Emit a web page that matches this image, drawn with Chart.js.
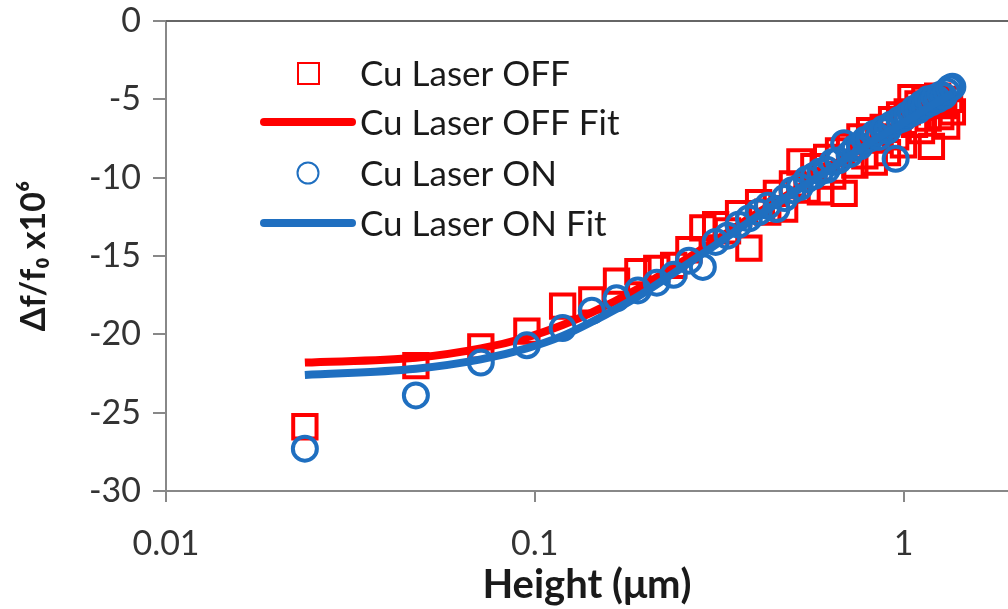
<!DOCTYPE html>
<html><head><meta charset="utf-8">
<script src="https://cdn.jsdelivr.net/npm/chart.js@4"></script>
<style>html,body{margin:0;padding:0;background:#fff}#wrap{width:1008px;height:609px}</style>
</head><body><div id="wrap"><canvas id="c" width="1008" height="609"></canvas></div>
<script>
// ---- data ----
const heights = [0.0238,0.0476,0.0714,0.0952,0.119,0.1428,0.1666,0.1904,0.2142,0.238,
  0.2618,0.2856,0.3094,0.3332,0.357,0.3808,0.4046,0.4284,0.4522,0.476,
  0.4998,0.5236,0.5474,0.5712,0.595,0.6188,0.6426,0.6664,0.6902,0.714,
  0.7378,0.7616,0.7854,0.8092,0.833,0.8568,0.8806,0.9044,0.9282,0.952,
  0.9758,0.9996,1.0234,1.0472,1.071,1.0948,1.1186,1.1424,1.1662,1.19,
  1.2138,1.2376,1.2614,1.2852,1.309,1.3328,1.3566];
const offValues = [-25.9,-22.0,-20.8,-19.8,-18.2,-17.8,-16.6,-16.0,-15.8,-15.6,
  -14.6,-13.2,-13.0,-13.4,-12.3,-14.5,-11.6,-12.2,-11.0,-12.0,
  -10.4,-9.0,-10.8,-9.3,-10.9,-8.7,-9.9,-8.3,-11.0,-8.0,
  -9.2,-7.4,-8.6,-7.0,-9.0,-7.6,-6.8,-8.4,-6.3,-7.4,
  -6.0,-7.9,-5.8,-4.9,-6.6,-5.3,-7.0,-5.0,-6.2,-8.0,
  -5.2,-4.8,-6.1,-5.4,-6.7,-5.0,-5.8];
const onValues = [-27.3,-23.9,-21.8,-20.7,-19.6,-18.5,-17.7,-17.2,-16.7,-16.2,
  -15.3,-15.7,-14.1,-13.7,-13.0,-12.6,-12.2,-11.8,-12.0,-11.3,
  -10.8,-10.6,-10.1,-9.9,-9.6,-9.5,-9.0,-8.9,-7.8,-8.5,
  -8.1,-8.0,-7.6,-7.5,-7.2,-7.4,-6.9,-7.0,-6.6,-8.8,
  -6.3,-6.2,-6.0,-5.9,-5.6,-5.7,-5.3,-5.4,-5.0,-5.2,
  -4.9,-5.0,-4.7,-4.8,-4.5,-4.3,-4.2];
const fitHeights = [0.0238,0.0476,0.0714,0.095,0.119,0.143,0.19,0.238,0.309,0.405,0.5,0.666,0.833,1.0,1.19,1.357];
const offFit = [-21.8,-21.5,-20.9,-20.2,-19.4,-18.6,-17.1,-15.7,-14.0,-12.2,-10.9,-9.0,-7.6,-6.5,-5.4,-4.6];
const onFit  = [-22.6,-22.2,-21.6,-20.9,-20.1,-19.2,-17.6,-16.1,-14.3,-12.4,-11.0,-9.1,-7.6,-6.5,-5.4,-4.6];
const xTickValues = [0.01, 0.1, 1];
const xTickLabels = ['0.01', '0.1', '1'];
const seriesNames = ['Cu Laser OFF', 'Cu Laser OFF Fit', 'Cu Laser ON', 'Cu Laser ON Fit'];
const xTitle = 'Height (\u03bcm)';
const yTitle = '\u0394f/f\u2080 x10\u2076';

const RED = '#FF0000', BLUE = '#1F6FC0';
const FONT = 'Lato';
const pts = (xs, ys) => xs.map((x, i) => ({x: x, y: ys[i]}));

const legendPlugin = {
  id: 'customLegend',
  afterDraw(chart) {
    const ctx = chart.ctx, a = chart.chartArea;
    ctx.save();
    ctx.strokeStyle = '#666'; ctx.lineWidth = 2;
    ctx.beginPath(); ctx.moveTo(a.left, a.top); ctx.lineTo(chart.width, a.top); ctx.stroke();
    const lx = a.left, ly = a.top;
    const rows = [52, 101, 152, 202];
    const tx = lx + 194;
    ctx.font = '35px ' + FONT; ctx.fillStyle = '#1a1a1a';
    ctx.textBaseline = 'middle'; ctx.textAlign = 'left';
    ctx.strokeStyle = RED; ctx.lineWidth = 2;
    ctx.strokeRect(lx + 132, ly + rows[0] - 10, 21, 21);
    ctx.strokeStyle = RED; ctx.lineWidth = 8; ctx.lineCap = 'round';
    ctx.beginPath(); ctx.moveTo(lx + 98, ly + rows[1]); ctx.lineTo(lx + 186, ly + rows[1]); ctx.stroke();
    ctx.strokeStyle = BLUE; ctx.lineWidth = 2;
    ctx.beginPath(); ctx.arc(lx + 142, ly + rows[2], 10.5, 0, Math.PI * 2); ctx.stroke();
    ctx.strokeStyle = BLUE; ctx.lineWidth = 8;
    ctx.beginPath(); ctx.moveTo(lx + 98, ly + rows[3]); ctx.lineTo(lx + 186, ly + rows[3]); ctx.stroke();
    seriesNames.forEach((n, i) => ctx.fillText(n, tx, ly + rows[i] + 2));
    ctx.restore();
  }
};

new Chart(document.getElementById('c'), {
  type: 'scatter',
  data: {
    datasets: [
      {label: seriesNames[3], type: 'line', data: pts(fitHeights, onFit), borderColor: BLUE, borderWidth: 8,
       pointRadius: 0, fill: false, cubicInterpolationMode: 'monotone', order: 0},
      {label: seriesNames[2], data: pts(heights, onValues), pointStyle: 'circle', pointRadius: 12,
       borderColor: BLUE, backgroundColor: 'rgba(0,0,0,0)', borderWidth: 4, order: 1},
      {label: seriesNames[1], type: 'line', data: pts(fitHeights, offFit), borderColor: RED, borderWidth: 8,
       pointRadius: 0, fill: false, cubicInterpolationMode: 'monotone', order: 2},
      {label: seriesNames[0], data: pts(heights, offValues), pointStyle: 'rect', pointRadius: 16.5,
       borderColor: RED, backgroundColor: 'rgba(0,0,0,0)', borderWidth: 4, order: 3}
    ]
  },
  options: {
    responsive: false, animation: false, devicePixelRatio: 1,
    layout: {autoPadding: false, padding: {top: 21, right: 0, left: 0, bottom: 0}},
    plugins: {legend: {display: false}, tooltip: {enabled: false}},
    scales: {
      x: {
        type: 'logarithmic', min: 0.01, max: 1.92, position: 'bottom',
        afterBuildTicks: (s) => { s.ticks = xTickValues.map(v => ({value: v})); },
        afterFit: (s) => { s.height = 118; s.paddingLeft = 0; s.paddingRight = 0; },
        ticks: {callback: (v) => { const i = xTickValues.indexOf(v); return i >= 0 ? xTickLabels[i] : ''; },
                font: {family: FONT, size: 34}, color: '#333', padding: 22, maxRotation: 0, autoSkip: false},
        grid: {drawOnChartArea: false, drawTicks: true, tickLength: 11, color: '#888', lineWidth: 2},
        border: {color: '#888', width: 2},
        title: {display: true, text: xTitle, font: {family: FONT, size: 40, weight: 'bold'}, color: '#1a1a1a',
                padding: {top: 0, bottom: 0}}
      },
      y: {
        min: -30, max: 0,
        afterFit: (s) => { s.width = 166; s.paddingTop = 0; s.paddingBottom = 0; },
        ticks: {stepSize: 5, font: {family: FONT, size: 34}, color: '#333', padding: 12},
        grid: {drawOnChartArea: false, drawTicks: true, tickLength: 13, color: '#888', lineWidth: 2},
        border: {color: '#888', width: 2},
        title: {display: true, text: yTitle, font: {family: FONT, size: 34, weight: 'bold'}, color: '#1a1a1a',
                padding: {top: 14, bottom: 0}}
      }
    }
  },
  plugins: [legendPlugin]
});
</script></body></html>
